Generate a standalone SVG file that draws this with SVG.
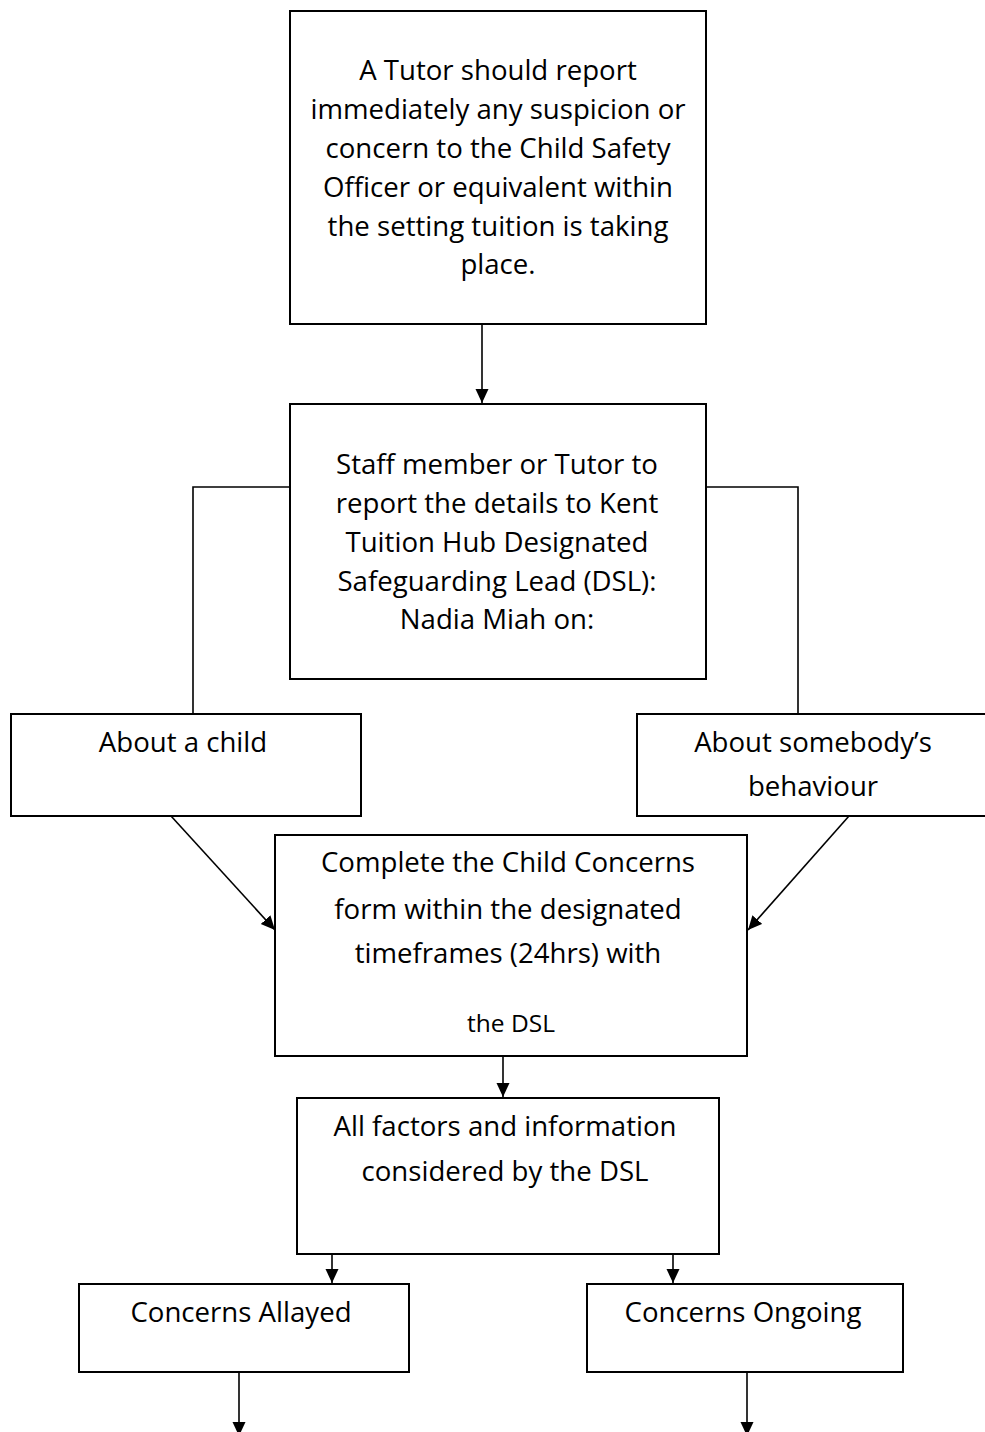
<svg xmlns="http://www.w3.org/2000/svg" width="985" height="1432" viewBox="0 0 985 1432">
<style>
.box{fill:#fff;stroke:#000;stroke-width:2}
.t{font-family:"Open Sans","Noto Sans",sans-serif;font-size:27.6px;fill:#000;text-anchor:middle}
.s{font-size:24.5px}
.c{fill:none;stroke:#000;stroke-width:1.6}
</style>
<defs>
<marker id="ah" markerUnits="userSpaceOnUse" markerWidth="15" markerHeight="14" refX="14" refY="6.5" orient="auto">
<path d="M0,0 L14,6.5 L0,13 z" fill="#000"/>
</marker>
</defs>
<rect width="985" height="1432" fill="#fff"/>
<g id="connectors">
<line class="c" x1="482" y1="324" x2="482" y2="403" marker-end="url(#ah)"/>
<polyline class="c" points="290,487 193,487 193,714"/>
<polyline class="c" points="706,487 798,487 798,714"/>
<line class="c" x1="171" y1="816" x2="275" y2="930" marker-end="url(#ah)"/>
<line class="c" x1="849" y1="816" x2="748" y2="930" marker-end="url(#ah)"/>
<line class="c" x1="503" y1="1056" x2="503" y2="1097" marker-end="url(#ah)"/>
<line class="c" x1="332" y1="1254" x2="332" y2="1283" marker-end="url(#ah)"/>
<line class="c" x1="673" y1="1254" x2="673" y2="1283" marker-end="url(#ah)"/>
<line class="c" x1="239" y1="1372" x2="239" y2="1436" marker-end="url(#ah)"/>
<line class="c" x1="747" y1="1372" x2="747" y2="1436" marker-end="url(#ah)"/>
</g>
<g id="n1">
<rect class="box" x="290" y="11" width="416" height="313"/>
<text class="t" x="498" y="80">A Tutor should report</text>
<text class="t" x="498" y="119">immediately any suspicion or</text>
<text class="t" x="498" y="158">concern to the Child Safety</text>
<text class="t" x="498" y="197">Officer or equivalent within</text>
<text class="t" x="498" y="236">the setting tuition is taking</text>
<text class="t" x="498" y="274">place.</text>
</g>
<g id="n2">
<rect class="box" x="290" y="404" width="416" height="275"/>
<text class="t" x="497" y="474">Staff member or Tutor to</text>
<text class="t" x="497" y="513">report the details to Kent</text>
<text class="t" x="497" y="552">Tuition Hub Designated</text>
<text class="t" x="497" y="591">Safeguarding Lead (DSL):</text>
<text class="t" x="497" y="629">Nadia Miah on:</text>
</g>
<g id="n3">
<rect class="box" x="11" y="714" width="350" height="102"/>
<text class="t" x="183" y="752">About a child</text>
</g>
<g id="n4">
<rect class="box" x="637" y="714" width="355" height="102"/>
<text class="t" x="813" y="752">About somebody’s</text>
<text class="t" x="813" y="796">behaviour</text>
</g>
<g id="n5">
<rect class="box" x="275" y="835" width="472" height="221"/>
<text class="t" x="508" y="872">Complete the Child Concerns</text>
<text class="t" x="508" y="919">form within the designated</text>
<text class="t" x="508" y="963">timeframes (24hrs) with</text>
<text class="t s" x="511" y="1032">the DSL</text>
</g>
<g id="n6">
<rect class="box" x="297" y="1098" width="422" height="156"/>
<text class="t" x="505" y="1136">All factors and information</text>
<text class="t" x="505" y="1181">considered by the DSL</text>
</g>
<g id="n7">
<rect class="box" x="79" y="1284" width="330" height="88"/>
<text class="t" x="241" y="1322">Concerns Allayed</text>
</g>
<g id="n8">
<rect class="box" x="587" y="1284" width="316" height="88"/>
<text class="t" x="743" y="1322">Concerns Ongoing</text>
</g>
</svg>
